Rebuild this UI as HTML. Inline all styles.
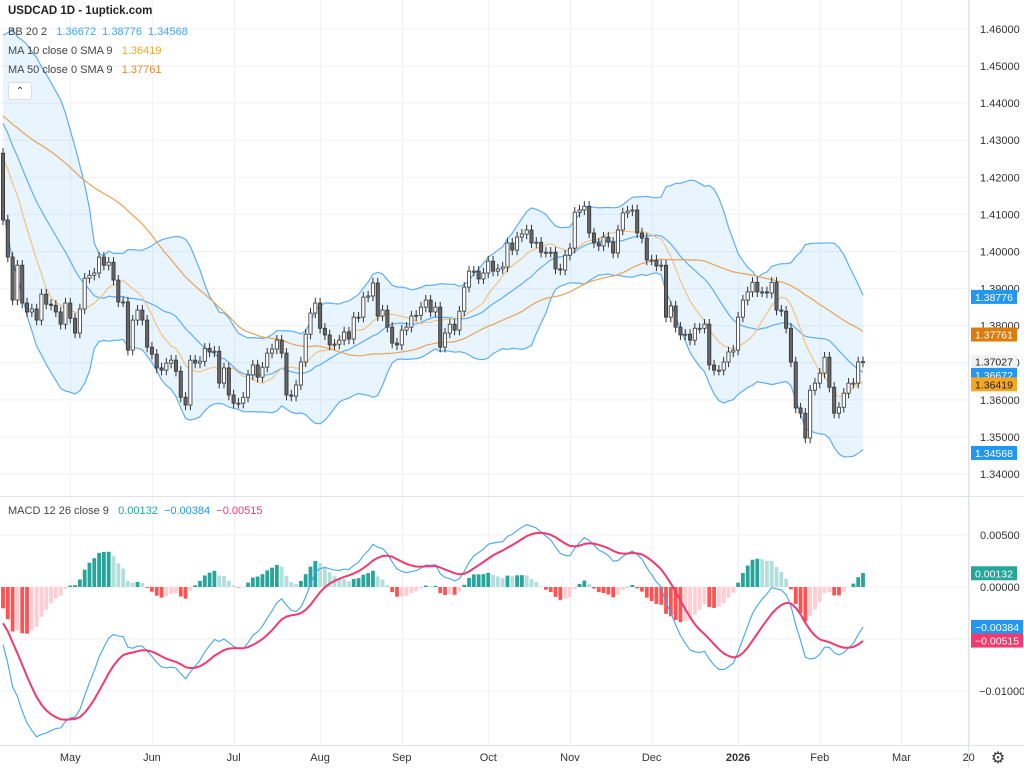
<!DOCTYPE html>
<html><head><meta charset="utf-8">
<style>
html,body{margin:0;padding:0;background:#fff;}
body{width:1024px;height:768px;overflow:hidden;font-family:"Liberation Sans",sans-serif;position:relative;}
svg{position:absolute;left:0;top:0;}
.leg{position:absolute;left:8px;font-size:11px;color:#444;white-space:nowrap;}
</style></head>
<body>
<svg id="chart" width="1024" height="768"></svg>
<div class="leg" style="top:5px;font-weight:bold;font-size:11.5px;color:#222">USDCAD 1D - 1uptick.com</div>
<div class="leg" style="top:26px">BB 20 2 &nbsp;&nbsp;<span style="color:#42a5f5">1.36672 &nbsp;1.38776 &nbsp;1.34568</span></div>
<div class="leg" style="top:45px">MA 10 close 0 SMA 9 &nbsp;&nbsp;<span style="color:#f5a623">1.36419</span></div>
<div class="leg" style="top:64px">MA 50 close 0 SMA 9 &nbsp;&nbsp;<span style="color:#e8861a">1.37761</span></div>
<div style="position:absolute;left:8px;top:82px;width:22px;height:16px;border:1px solid #ddd;border-radius:3px;background:#fff;font-size:10px;text-align:center;line-height:17px;color:#333">&#8963;</div>
<div class="leg" style="top:505px">MACD 12 26 close 9 &nbsp;&nbsp;<span style="color:#26a69a">0.00132</span> &nbsp;<span style="color:#2196f3">−0.00384</span> &nbsp;<span style="color:#f23a6e">−0.00515</span></div>
<script>
const preCloses=[1.4400,1.4420,1.4450,1.4430,1.4410,1.4380,1.4360,1.4390,1.4420,1.4460,
1.4480,1.4500,1.4470,1.4440,1.4400,1.4350,1.4300,1.4280,1.4250,1.4270,
1.4300,1.4320,1.4350,1.4380,1.4400,1.4420,1.4450,1.4470,1.4440,1.4410,
1.4380,1.4350,1.4330,1.4300,1.4320,1.4350,1.4380,1.4400,1.4420,1.4440,
1.4480,1.4520,1.4550,1.4530,1.4500,1.4470,1.4440,1.4400,1.4360,1.4320,
1.4300,1.4280,1.4260,1.4290,1.4310,1.4280,1.4260,1.4240,1.4250,1.4265];
const closes=[1.4085,1.3985,1.3869,1.3963,1.3861,1.3837,1.3845,1.3815,1.3885,1.3858,1.3855,1.3837,1.3804,1.3861,1.3820,1.3780,1.3845,1.3928,1.3936,1.3942,1.3985,1.3963,1.3971,1.3923,1.3864,1.3864,1.3734,
1.3815,1.3842,1.3815,1.3742,1.3723,1.3686,1.3680,1.3699,1.3707,1.3677,1.3607,1.3586,1.3707,1.3699,1.3704,1.3739,1.3729,1.3731,1.3645,1.3686,1.3613,1.3591,1.3591,1.3607,
1.3667,1.3694,1.3661,1.3688,1.3726,1.3737,1.3761,1.3726,1.3613,1.3610,1.3640,
1.3702,1.3777,1.3834,1.3861,1.3793,1.3775,1.3748,1.3750,1.3761,1.3783,1.3764,1.3823,1.3823,1.3877,1.3880,1.3915,1.3826,1.3842,1.3796,1.3753,1.3748,1.3788,1.3796,1.3826,1.3828,1.3850,1.3869,1.3837,1.3850,1.3742,1.3780,1.3804,1.3788,1.3839,1.3904,1.3947,1.3947,1.3926,1.3942,1.3974,1.3947,1.3953,1.3958,1.4023,1.4004,1.4039,1.4047,1.4058,1.4023,1.4025,1.3998,1.3998,1.3998,1.3953,1.3950,1.3990,1.4009,1.4106,1.4112,1.4122,
1.4050,1.4023,1.4015,1.4039,1.4025,1.3996,1.4058,1.4104,1.4109,1.4112,1.4050,1.4036,1.3977,1.3977,1.3961,1.3963,1.3823,1.3853,1.3796,1.3775,1.3777,1.3761,1.3793,1.3793,1.3804,1.3694,1.3680,1.3680,1.3702,1.3729,1.3734,1.3823,1.3869,1.3891,1.3917,1.3891,1.3891,1.3888,1.3917,1.3842,1.3839,1.3793,1.3702,1.3578,1.3564,1.3497,1.3626,1.3645,1.3672,1.3715,1.3634,1.3564,1.3580,1.3618,1.3645,1.3645,1.3702,1.3703];
const firstOpen=1.4265;
const priceTicks=[1.46,1.45,1.44,1.43,1.42,1.41,1.40,1.39,1.38,1.37,1.36,1.35,1.34];
const priceTickLabels=["1.46000","1.45000","1.44000","1.43000","1.42000","1.41000","1.40000","1.39000","1.38000","1.37000","1.36000","1.35000","1.34000"];
const macdTicks=[0.005,0,-0.005,-0.01];
const macdTickLabels=["0.00500","0.00000","","−0.01000"];
const months=["May","Jun","Jul","Aug","Sep","Oct","Nov","Dec","2026","Feb","Mar","20"];
const monthBar=[14,31,48,66,83,101,118,135,153,170,187,201];

const NS="http://www.w3.org/2000/svg";
const svg=document.getElementById('chart');
const PLOT_R=968;
const X0=3, DX=860/(closes.length-1);
const xb=i=>X0+i*DX;
const py=p=>29+(1.46-p)*3708.33;
const my=v=>587-v*10400;
function el(tag,attrs,parent){const e=document.createElementNS(NS,tag);for(const k in attrs)e.setAttribute(k,attrs[k]);(parent||svg).appendChild(e);return e;}

const defs=el('defs',{});
const cp=el('clipPath',{id:'pc'},defs);el('rect',{x:0,y:0,width:PLOT_R,height:496},cp);
const cm=el('clipPath',{id:'mc'},defs);el('rect',{x:0,y:498,width:PLOT_R,height:247},cm);

const grid=el('g',{stroke:'#f0f2f5','stroke-width':1});


priceTicks.forEach(t=>el('line',{x1:0,x2:PLOT_R,y1:py(t),y2:py(t)},grid));
macdTicks.forEach(t=>el('line',{x1:0,x2:PLOT_R,y1:my(t),y2:my(t)},grid));
monthBar.forEach(b=>{const x=Math.round(xb(b))+.5;el('line',{x1:x,x2:x,y1:0,y2:745},grid);});

const sep=el('line',{x1:0,x2:1024,y1:496.5,y2:496.5,stroke:'#e0e3eb'});


const ax=el('line',{x1:PLOT_R+.5,x2:PLOT_R+.5,y1:0,y2:768,stroke:'#e0e3eb'});


el('line',{x1:0,x2:1024,y1:745.5,y2:745.5,stroke:'#e0e3eb'});

const all=preCloses.concat(closes);const P=preCloses.length;
function sma(n,i){let s=0;for(let k=i-n+1;k<=i;k++)s+=all[k];return s/n;}
function sd(n,i,m){let s=0;for(let k=i-n+1;k<=i;k++)s+=(all[k]-m)**2;return Math.sqrt(s/n);}
function ema(arr,n){const a=2/(n+1);const o=[arr[0]];for(let i=1;i<arr.length;i++)o.push(a*arr[i]+(1-a)*o[i-1]);return o;}
const e12=ema(all,12),e26=ema(all,26);
const macd=all.map((v,i)=>e12[i]-e26[i]);
const sig=ema(macd,9);
const up=[],mid=[],lo=[],m10=[],m50=[];
for(let i=0;i<closes.length;i++){const g=P+i;const m=sma(20,g),s=sd(20,g,m);mid.push(m);up.push(m+2*s);lo.push(m-2*s);m10.push(sma(10,g));m50.push(sma(50,g));}
const pg=el('g',{'clip-path':'url(#pc)'});


function pts(arr,f){return arr.map((v,i)=>xb(i).toFixed(1)+','+f(v).toFixed(1)).join(' ');}
const fillPts=pts(up,py)+' '+lo.map((v,i)=>[xb(i),py(v)]).reverse().map(p=>p[0].toFixed(1)+','+p[1].toFixed(1)).join(' ');
const bf=el('polygon',{points:fillPts,fill:'rgba(33,150,243,0.1)'},pg);


[[up,'bb-upper'],[mid,'bb-middle'],[lo,'bb-lower']].forEach(([a,n])=>{const l=el('polyline',{points:pts(a,py),fill:'none',stroke:'#5eaef5','stroke-width':1.2},pg);});
const l10=el('polyline',{points:pts(m10,py),fill:'none',stroke:'#f5c37f','stroke-width':1.2},pg);


const l50=el('polyline',{points:pts(m50,py),fill:'none',stroke:'#e9a354','stroke-width':1.2},pg);



const cg=el('g',{},pg);
closes.forEach((c,i)=>{
  const o=i===0?firstOpen:closes[i-1];
  const hi=Math.max(o,c)+0.0014, lw=Math.min(o,c)-0.0014;
  const x=xb(i);
  const g=el('g',{},cg);
  
  
  el('line',{x1:x,x2:x,y1:py(hi),y2:py(lw),stroke:'#333','stroke-width':1},g);
  const t=py(Math.max(o,c)),b=py(Math.min(o,c));
  el('rect',{x:x-1.6,y:t,width:3.2,height:Math.max(1,b-t),fill:c<o?'#666':'#fff',stroke:'#333','stroke-width':0.8},g);
});

const mg=el('g',{'clip-path':'url(#mc)'});


for(let i=0;i<closes.length;i++){
  const g=P+i;const h=macd[g]-sig[g];const hp=macd[g-1]-sig[g-1];
  let col=h>=0?(h>=hp?'#26a69a':'#b2dfdb'):(h<hp?'#ff5252':'#ffcdd2');
  const y0=my(0),y1=my(h);
  const r=el('rect',{x:xb(i)-1.9,y:Math.min(y0,y1),width:3.8,height:Math.max(0.5,Math.abs(y1-y0)),fill:col},mg);
  
  
}
const mv=closes.map((_,i)=>macd[P+i]),sv=closes.map((_,i)=>sig[P+i]);
const ml=el('polyline',{points:pts(mv,my),fill:'none',stroke:'#42a5f5','stroke-width':1.1},mg);


const sl=el('polyline',{points:pts(sv,my),fill:'none',stroke:'#f23a6e','stroke-width':2},mg);



priceTicks.forEach((t,i)=>{const tx=el('text',{x:980,y:py(t)+4,'font-size':11,fill:'#333','font-family':'Liberation Sans'});tx.textContent=priceTickLabels[i];});
macdTicks.forEach((t,i)=>{if(!macdTickLabels[i])return;const tx=el('text',{x:i==3?979:980,y:my(t)+4,'font-size':11,fill:'#333','font-family':'Liberation Sans'});tx.textContent=macdTickLabels[i];});
months.forEach((m,i)=>{const tx=el('text',{x:xb(monthBar[i]),y:761,'font-size':11,fill:'#333','text-anchor':'middle','font-weight':m==='2026'?'bold':'normal','font-family':'Liberation Sans'});tx.textContent=m;});

const tags=[[py(1.38776),'#2196f3','#fff','1.38776','bb-upper-tag'],[py(1.37761),'#e07b0a','#fff','1.37761','ma50-tag'],[py(1.37027),'#f2f2f2','#222','1.37027','last-price-tag'],[py(1.36672),'#2196f3','#fff','1.36672','bb-middle-tag'],[py(1.36419),'#f5a623','#222','1.36419','ma10-tag'],[py(1.34568),'#2196f3','#fff','1.34568','bb-lower-tag'],
[my(0.00132),'#26a69a','#fff','0.00132','histogram-tag'],[my(-0.00384),'#2196f3','#fff','−0.00384','macd-tag'],[my(-0.00515),'#f23a6e','#fff','−0.00515','signal-tag']];
tags.forEach(([y,bg,fg,t,n])=>{const g=el('g',{});
  el('rect',{x:971,y:y-7,width:t.length>7?52:46,height:14,fill:bg},g);
  const tx=el('text',{x:975,y:y+4,'font-size':10.5,fill:fg,'font-family':'Liberation Sans'},g);tx.textContent=t;});

const gear=el('text',{x:998,y:763,'font-size':16,fill:'#333','text-anchor':'middle'});
gear.textContent='⚙';


</script>
</body></html>
